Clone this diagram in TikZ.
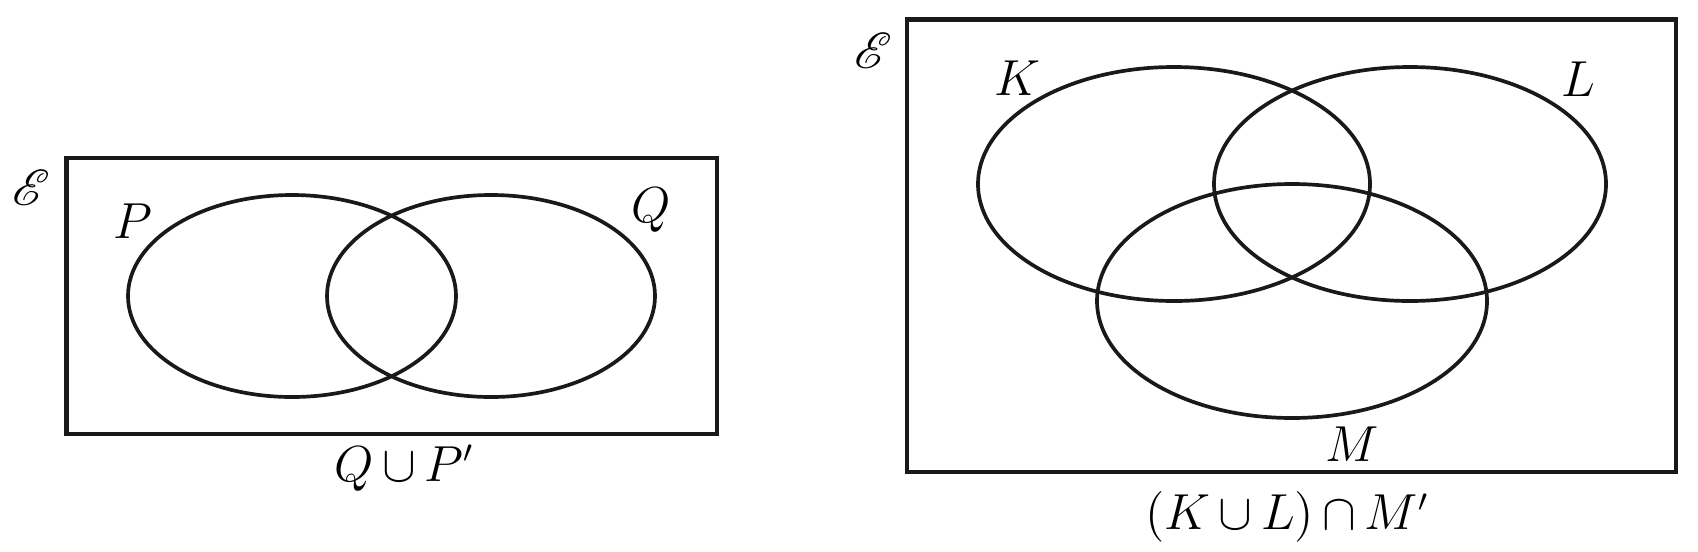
\documentclass[tikz,border=0pt]{standalone}
\usepackage{mathrsfs}
\begin{document}
\begin{tikzpicture}[x=0.01cm,y=-0.01cm,
    setline/.style={line width=1.05pt,black!90},
    boxline/.style={line width=1.2pt,black!90},
    setlabel/.style={font=\fontsize{13.5}{16}\selectfont,inner sep=0pt},
    univlabel/.style={font=\fontsize{15}{18}\selectfont,inner sep=0pt}]
    \useasboundingbox (0,0) rectangle (1698,551);
    % left diagram
    \draw[boxline] (66.5,158) rectangle (717,434);
    \draw[setline] (292,296) ellipse (164 and 101);
    \draw[setline] (491,296) ellipse (164 and 101);
    \node[univlabel] (univA) at (31,188) {$\mathscr{E}$};
    \node[setlabel] (labP) at (133,221) {$P$};
    \node[setlabel] (labQ) at (651,210) {$Q$};
    \node[setlabel] (exprA) at (404,468) {$Q{\,\cup\,}P'$};
    % right diagram
    \draw[boxline] (907,19.5) rectangle (1676,472);
    \draw[setline] (1174,184) ellipse (196 and 117);
    \draw[setline] (1410,184) ellipse (196 and 117);
    \draw[setline] (1292,301) ellipse (195 and 117);
    \node[univlabel] (univB) at (873,51) {$\mathscr{E}$};
    \node[setlabel] (labK) at (1017,78) {$K$};
    \node[setlabel] (labL) at (1578,79) {$L$};
    \node[setlabel] (labM) at (1352,444) {$M$};
    \node[setlabel] (exprB) at (1287,517) {$(K{\,\cup\,}L){\,\cap\,}M'$};
\end{tikzpicture}
\end{document}
